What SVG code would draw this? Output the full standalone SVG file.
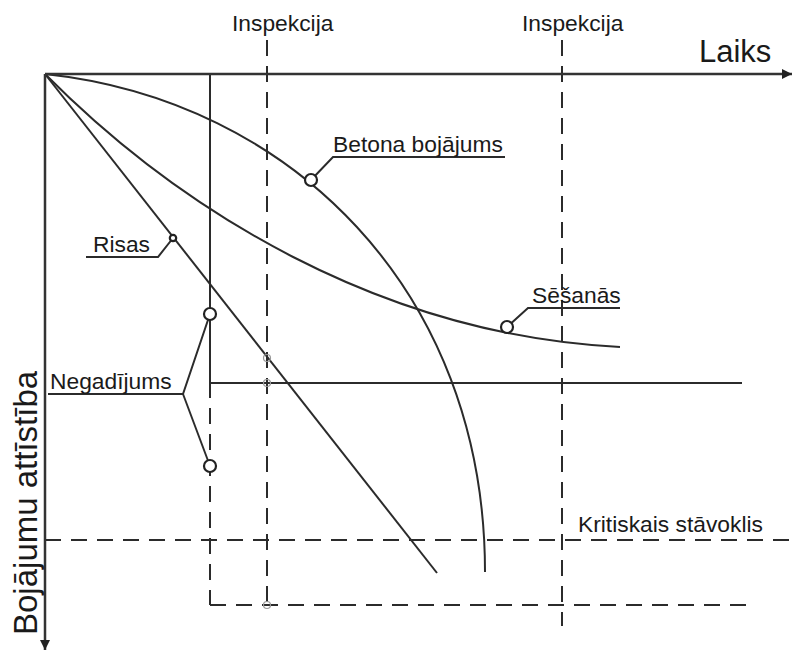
<svg xmlns="http://www.w3.org/2000/svg" width="793" height="652" viewBox="0 0 793 652">
  <style>
    .ln { fill: none; stroke: #2b2b2b; stroke-width: 2; }
    .ax { fill: none; stroke: #333; stroke-width: 2.5; }
    .dash { fill: none; stroke: #2b2b2b; stroke-width: 2; stroke-dasharray: 16 10; }
    .mk { fill: #fff; stroke: #222; stroke-width: 2.2; }
    .pt { fill: none; stroke: #999; stroke-width: 1.2; }
    .tx { font-family: "Liberation Sans", Arial, sans-serif; font-size: 22.8px; fill: #1a1a1a; }
  </style>
  <defs>
    <marker id="arr" viewBox="0 0 10 10" refX="10" refY="5" markerWidth="10" markerHeight="10" markerUnits="userSpaceOnUse" orient="auto">
      <path d="M0,0 L10,5 L0,10 z" fill="#222"/>
    </marker>
  </defs>
  <rect width="793" height="652" fill="#fff"/>

  <g id="connectors">
    <!-- reference lines -->
    <line class="dash" x1="267" y1="40" x2="267" y2="605"/>
    <line class="dash" x1="562" y1="40" x2="562" y2="626"/>
    <line class="dash" x1="45" y1="540" x2="793" y2="540"/>
    <line class="dash" x1="210" y1="605" x2="752" y2="605"/>
    <line class="ln" x1="210" y1="74" x2="210" y2="398"/>
    <line class="dash" x1="210" y1="408" x2="210" y2="605"/>
    <line class="ln" x1="210" y1="383" x2="742" y2="383"/>

    <!-- damage curves -->
    <path class="ln" d="M45,74 L437,573"/>
    <path class="ln" d="M45,74 C290,100 485,290 485,572"/>
    <path class="ln" d="M45,74 C180,210 380,335 620,347"/>

    <!-- label leaders -->
    <polyline class="ln" points="505,157 333,157 311,180"/>
    <polyline class="ln" points="620,308 528,308 507,327"/>
    <polyline class="ln" points="86,257 158,257 173,238"/>
    <polyline class="ln" points="48,394 183,394 210,314"/>
    <line class="ln" x1="183" y1="394" x2="210" y2="466"/>

    <!-- axes -->
    <line class="ax" x1="45" y1="74" x2="792" y2="74" marker-end="url(#arr)"/>
    <line class="ax" x1="45" y1="74" x2="45" y2="650" marker-end="url(#arr)"/>
  </g>

  <g id="markers">
    <circle class="mk" cx="311" cy="180" r="6"/>
    <circle class="mk" cx="507" cy="327" r="6"/>
    <circle class="mk" cx="173" cy="238" r="3.2"/>
    <circle class="mk" cx="210" cy="314" r="6"/>
    <circle class="mk" cx="210" cy="466" r="6"/>
    <circle class="pt" cx="267" cy="358" r="3.5"/>
    <circle class="pt" cx="267" cy="383" r="3.5"/>
    <circle class="pt" cx="267" cy="605" r="3.5"/>
  </g>

  <g id="label-laiks"><text class="tx" x="699" y="62" style="font-size:31px">Laiks</text></g>
  <g id="label-axis-y"><text class="tx" transform="translate(37,635) rotate(-90)" style="font-size:33px">Bojājumu attīstība</text></g>
  <g id="label-inspekcija-1"><text class="tx" x="232" y="31">Inspekcija</text></g>
  <g id="label-inspekcija-2"><text class="tx" x="522" y="31">Inspekcija</text></g>
  <g id="label-betona"><text class="tx" x="333" y="152">Betona bojājums</text></g>
  <g id="label-sesanas"><text class="tx" x="532" y="303">Sēšanās</text></g>
  <g id="label-risas"><text class="tx" x="93" y="252">Risas</text></g>
  <g id="label-negadijums"><text class="tx" x="50" y="389">Negadījums</text></g>
  <g id="label-kritiskais"><text class="tx" x="578" y="532">Kritiskais stāvoklis</text></g>
</svg>
